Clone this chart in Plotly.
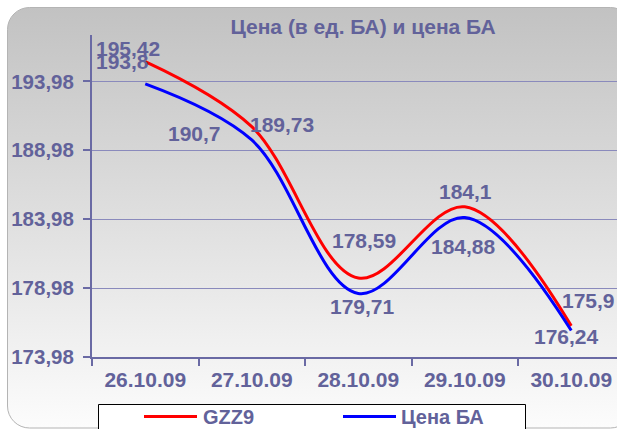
import base64
import plotly.graph_objects as go

# ---- data ----
dates = ["26.10.09", "27.10.09", "28.10.09", "29.10.09", "30.10.09"]
gzz9 = [195.42, 190.7, 179.71, 184.88, 176.24]
cena_ba = [193.8, 189.73, 178.59, 184.1, 175.9]
y_ticks = [173.98, 178.98, 183.98, 188.98, 193.98]
y_tick_text = ["173,98", "178,98", "183,98", "188,98", "193,98"]
series_names = ["GZZ9", "Цена БА"]
title_text = "Цена (в ед. БА) и цена БА"

# ---- styling ----
W, H = 617, 429
ML, MT, MB, MR = 92, 35, 72, 0
PW, PH = W - ML - MR, H - MT - MB
TXT = "#62629a"
FONT = "Liberation Sans, Arial, sans-serif"
RED, BLUE = "#ff0000", "#0000ff"

# label pixel offsets (dx, dy down)
red_off = [(-17, -13), (-57, 7), (4, 28), (-1, 40), (-5, 11)]
blue_off = [(-23, -22), (30, -15), (6, -53), (1, -26), (17, -30)]


def px_x(p):
    return (p - ML) / PW


def px_y(p):
    return (H - MB - p) / PH


def fmt(v):
    s = ("%.2f" % v).rstrip("0").rstrip(".")
    return s.replace(".", ",")


svg = f'''<svg xmlns="http://www.w3.org/2000/svg" width="{W}" height="{H}">
<defs><linearGradient id="g" x1="0" y1="0" x2="0" y2="1">
<stop offset="0" stop-color="#c2c2c2"/><stop offset="1" stop-color="#fcfcfc"/>
</linearGradient></defs>
<rect x="0" y="0" width="{W}" height="{H}" fill="#ffffff"/>
<rect x="7.5" y="7.5" width="625" height="420.5" rx="22" ry="22" fill="url(#g)" stroke="#b4b4b4" stroke-width="1"/>
</svg>'''
src = "data:image/svg+xml;base64," + base64.b64encode(svg.encode("utf-8")).decode()

fig = go.Figure()
fig.add_trace(go.Scatter(x=dates, y=gzz9, mode="lines", name=series_names[0],
                         line=dict(color=RED, width=3, shape="spline", smoothing=1.0)))
fig.add_trace(go.Scatter(x=dates, y=cena_ba, mode="lines", name=series_names[1],
                         line=dict(color=BLUE, width=3, shape="spline", smoothing=1.0)))

LBL = dict(family=FONT, size=21, color=TXT, weight="bold")
ann = []
for d, v, (dx, dy) in zip(dates, gzz9, red_off):
    ann.append(dict(x=d, y=v, xref="x", yref="y", text=fmt(v), showarrow=False,
                    xshift=dx, yshift=-dy, font=LBL))
for d, v, (dx, dy) in zip(dates, cena_ba, blue_off):
    ann.append(dict(x=d, y=v, xref="x", yref="y", text=fmt(v), showarrow=False,
                    xshift=dx, yshift=-dy, font=LBL))

# manual legend
shapes = [
    dict(type="rect", xref="paper", yref="paper", x0=px_x(98.5), x1=px_x(525.5),
         y0=px_y(436), y1=px_y(404.5), line=dict(color="#000000", width=1), fillcolor="#ffffff"),
    dict(type="line", xref="paper", yref="paper", x0=px_x(144), x1=px_x(197),
         y0=px_y(416.5), y1=px_y(416.5), line=dict(color=RED, width=3)),
    dict(type="line", xref="paper", yref="paper", x0=px_x(343), x1=px_x(396),
         y0=px_y(416.5), y1=px_y(416.5), line=dict(color=BLUE, width=3)),
]
LEG = dict(family=FONT, size=20, color=TXT, weight="bold")
ann.append(dict(x=px_x(201), y=px_y(417), xref="paper", yref="paper", text=series_names[0],
                showarrow=False, xanchor="left", yanchor="middle", font=LEG))
ann.append(dict(x=px_x(399), y=px_y(417), xref="paper", yref="paper", text=series_names[1],
                showarrow=False, xanchor="left", yanchor="middle", font=LEG))

fig.update_layout(
    width=W, height=H,
    margin=dict(l=ML, r=MR, t=MT, b=MB, pad=0),
    paper_bgcolor="#ffffff",
    plot_bgcolor="rgba(0,0,0,0)",
    showlegend=False,
    title=dict(text=title_text, x=363 / W, xanchor="center", y=1 - 27 / H, yanchor="middle",
               xref="container", yref="container",
               font=dict(family=FONT, size=21, color=TXT, weight="bold")),
    images=[dict(source=src, xref="paper", yref="paper", x=px_x(0), y=px_y(0),
                 sizex=W / PW, sizey=H / PH, sizing="stretch", layer="below",
                 xanchor="left", yanchor="top")],
    shapes=shapes,
    annotations=ann,
)
fig.update_xaxes(type="category", range=[-0.5, -0.5 + PW / 106.5], tickson="boundaries",
                 showline=True, linecolor="#6a6aa4", linewidth=2, ticks="outside", ticklen=7,
                 tickcolor="#6a6aa4", tickwidth=1.5, showgrid=False, zeroline=False,
                 ticklabelstandoff=3,
                 tickfont=dict(family=FONT, size=21, color=TXT, weight="bold"))
fig.update_yaxes(range=[173.98, 173.98 + PH / 13.78], tickvals=y_ticks, ticktext=y_tick_text,
                 showline=True, linecolor="#6a6aa4", linewidth=2, ticks="outside", ticklen=7,
                 tickcolor="#6a6aa4", tickwidth=1.5, showgrid=True, gridcolor="#8a8abc",
                 gridwidth=1, zeroline=False, ticklabelstandoff=5,
                 tickfont=dict(family=FONT, size=20.5, color=TXT, weight="bold"))

fig.write_html("out.html", config={"displayModeBar": False},
               post_script="document.body.style.margin='0';")
